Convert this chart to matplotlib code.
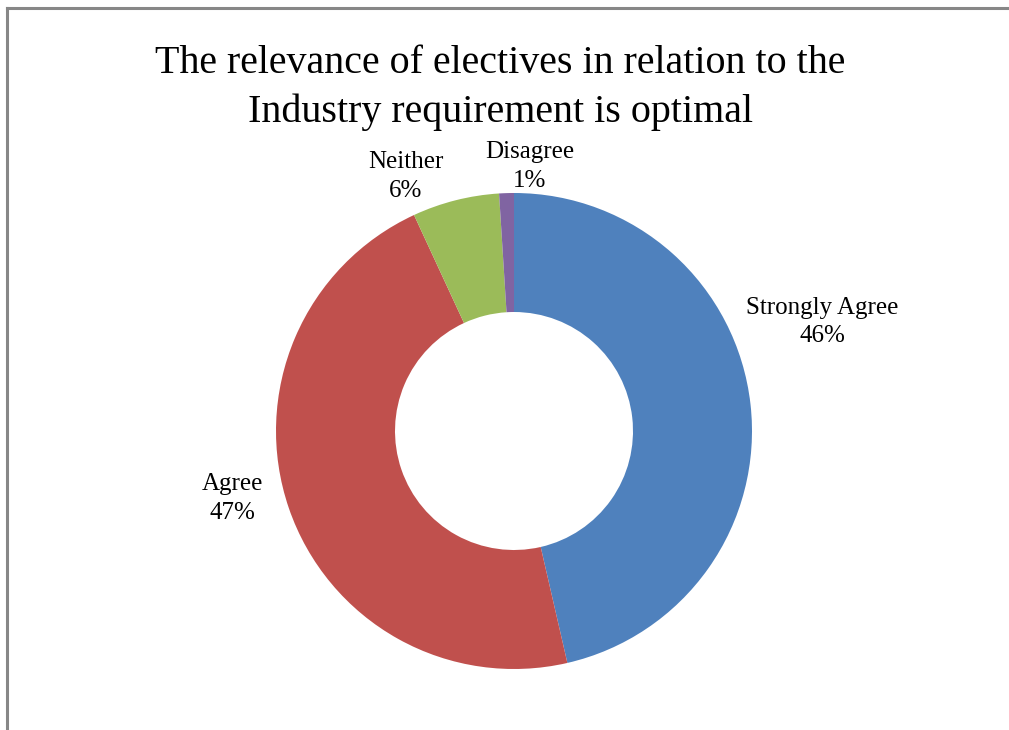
import matplotlib
matplotlib.use("Agg")
import matplotlib.pyplot as plt
from matplotlib.lines import Line2D

categories = ["Strongly Agree", "Agree", "Neither", "Disagree"]
shares = [46.4, 46.7, 5.9, 1.0]
pct_labels = ["46%", "47%", "6%", "1%"]
colors = ["#4F81BD", "#C0504D", "#9BBB59", "#8064A2"]
# label anchor points, in units of the outer radius
label_pos = [(1.294, 0.458), (-1.185, -0.285), (-0.454, 1.07), (0.067, 1.11)]

plt.rcParams['font.family'] = ['Liberation Serif', 'DejaVu Serif']

W, H = 1009, 730
fig = plt.figure(figsize=(W / 100, H / 100), dpi=100)

# donut centre at (514, 431) px from top-left, outer radius 238 px
cx, cy, R = 514, H - 431, 238
half = 300
ax = fig.add_axes([(cx - half) / W, (cy - half) / H, 2 * half / W, 2 * half / H])
ax.pie(shares, colors=colors, startangle=90, counterclock=False, radius=1.0,
       wedgeprops=dict(width=0.5, linewidth=0))
lim = half / R
ax.set_xlim(-lim, lim)
ax.set_ylim(-lim, lim)
ax.set_aspect('equal')
ax.axis('off')

for cat, pct, (x, y) in zip(categories, pct_labels, label_pos):
    ax.text(x, y, f"{cat}\n{pct}", ha='center', va='center', fontsize=18,
            linespacing=1.4, clip_on=False)

fig.text(500 / W, 1 - 88 / H,
         "The relevance of electives in relation to the\nIndustry requirement is optimal",
         ha='center', va='center', fontsize=28.8, linespacing=1.37)

# chart-area border (only top and left edges visible)
fig.add_artist(Line2D([7 / W, 1], [1 - 8 / H, 1 - 8 / H], color='#878787', lw=2.2))
fig.add_artist(Line2D([7 / W, 7 / W], [0, 1 - 8 / H], color='#878787', lw=2.2))

fig.savefig("out.png", dpi=100)
